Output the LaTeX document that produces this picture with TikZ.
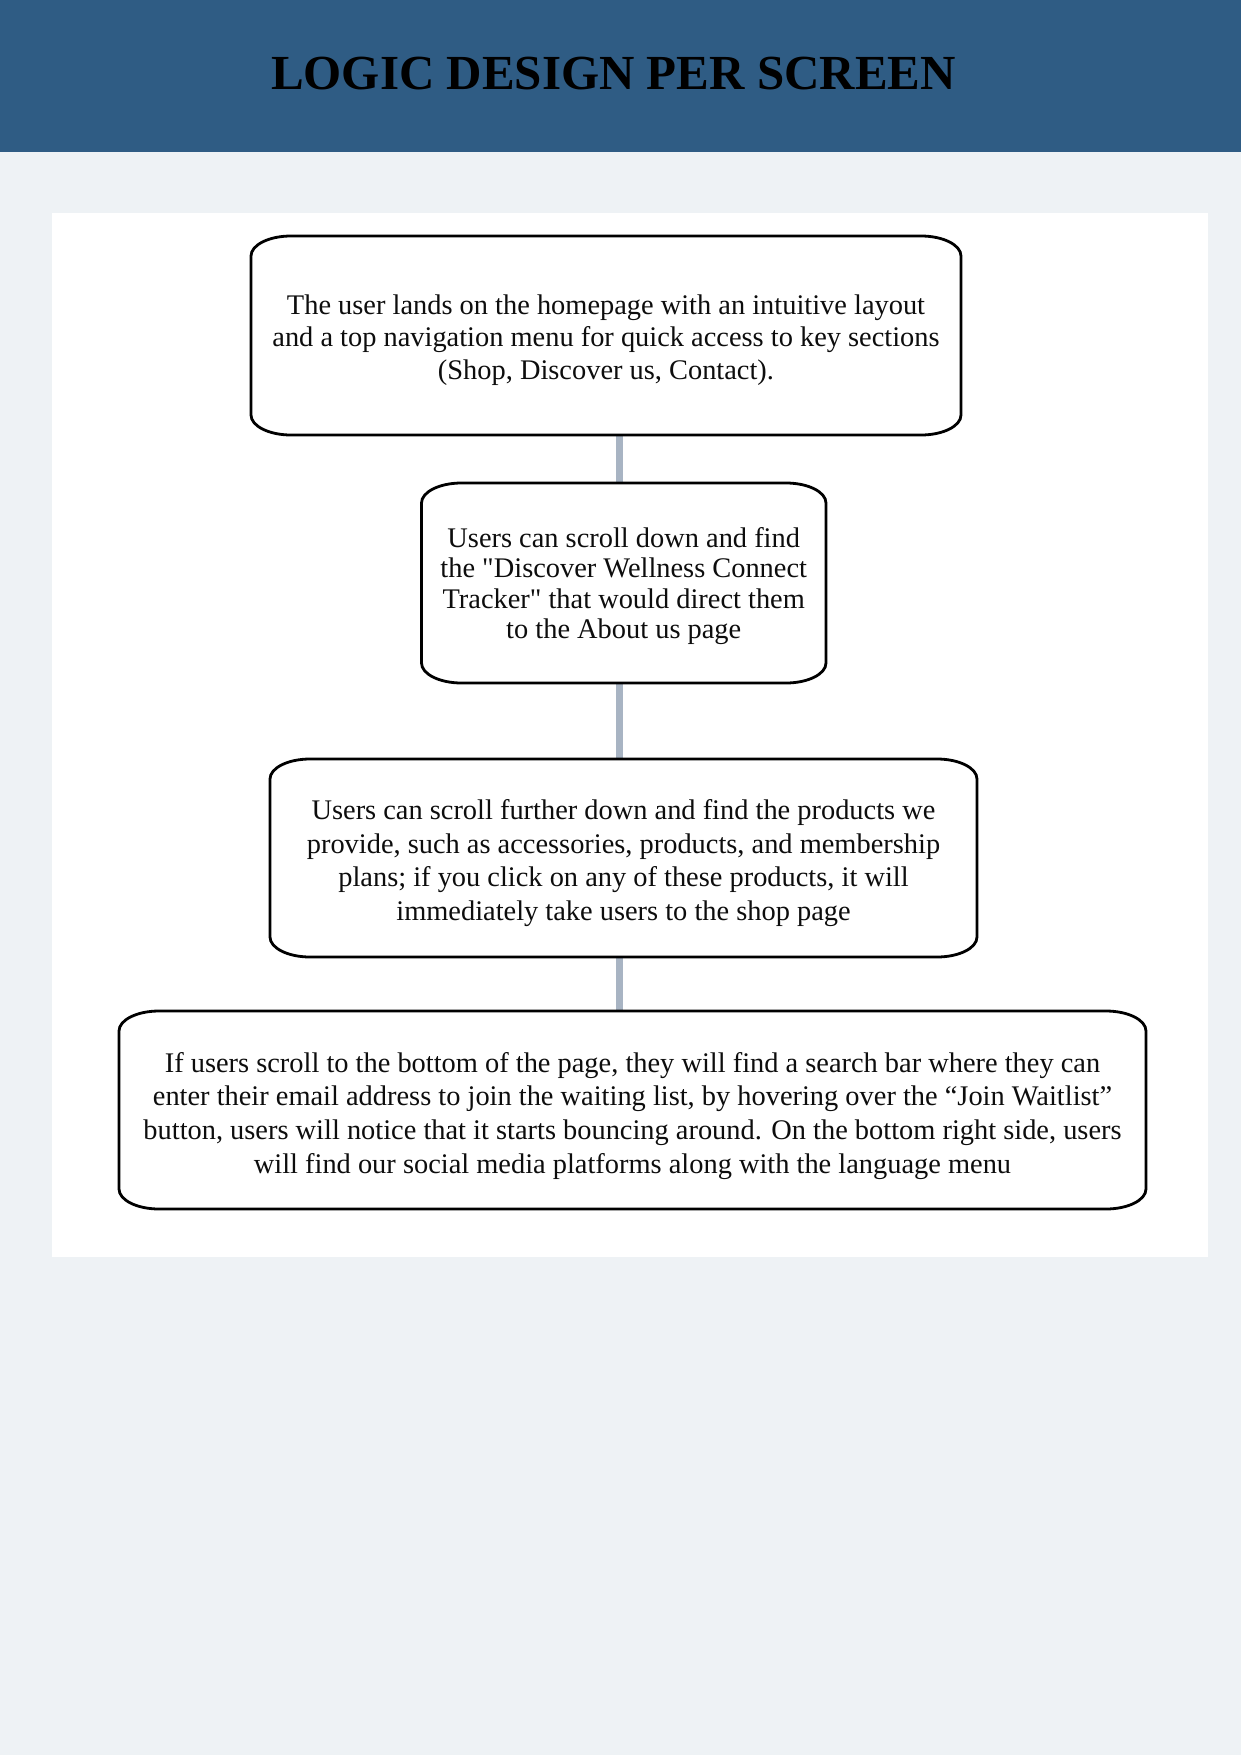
\documentclass[tikz,border=0pt]{standalone}
\usepackage{fontspec}
\setmainfont{Liberation Serif}[Ligatures=TeXOff]
\definecolor{hdr}{HTML}{2F5C84}
\definecolor{pagebg}{HTML}{EEF2F5}
\definecolor{connc}{HTML}{A8B4C3}
\newcommand{\ellbox}[1]{%
  \draw[boxline] ([xshift=40pt]#1.north west) -- ([xshift=-40pt]#1.north east)
    .. controls ([xshift=-17.9pt]#1.north east) and ([yshift=-8.95pt]#1.north east) .. ([yshift=-20pt]#1.north east)
    -- ([yshift=20pt]#1.south east)
    .. controls ([yshift=8.95pt]#1.south east) and ([xshift=-17.9pt]#1.south east) .. ([xshift=-40pt]#1.south east)
    -- ([xshift=40pt]#1.south west)
    .. controls ([xshift=17.9pt]#1.south west) and ([yshift=8.95pt]#1.south west) .. ([yshift=20pt]#1.south west)
    -- ([yshift=-20pt]#1.north west)
    .. controls ([yshift=-8.95pt]#1.north west) and ([xshift=17.9pt]#1.north west) .. ([xshift=40pt]#1.north west) -- cycle;}
\begin{document}
\begin{tikzpicture}[x=1pt,y=-1pt,
  boxframe/.style={rectangle, draw=none, inner sep=0pt, outer sep=0pt},
  boxline/.style={draw=black, line width=2.8pt},
  txt/.style={inner sep=0pt, outer sep=0pt, align=center, text=black!95,
    font=\fontsize{28.4pt}{32.5pt}\selectfont},
  conn/.style={draw=connc, line width=7pt}]
\useasboundingbox (0,0) rectangle (1241,1755);
\fill[pagebg] (0,0) rectangle (1241,1755);
\fill[hdr] (0,0) rectangle (1241,152);
\fill[white] (52,213) rectangle (1208,1257);
\node[anchor=base, inner sep=0pt, font=\bfseries\fontsize{49pt}{49pt}\selectfont] (title) at (613.5,90) {LOGIC DESIGN PER SCREEN};
% box frames
\node[boxframe, minimum width=710pt, minimum height=199pt] (b1) at (606,335.5) {};
\node[boxframe, minimum width=404.5pt, minimum height=200pt] (b2) at (623.75,583) {};
\node[boxframe, minimum width=707pt, minimum height=198pt] (b3) at (623.5,858) {};
\node[boxframe, minimum width=1027pt, minimum height=198pt] (b4) at (632.5,1110) {};
\coordinate (ax) at (619,0);
% connectors
\draw[conn] (b1.south -| ax) -- (b2.north -| ax);
\draw[conn] (b2.south -| ax) -- (b3.north -| ax);
\draw[conn] (b3.south -| ax) -- (b4.north -| ax);
\ellbox{b1}
\ellbox{b2}
\ellbox{b3}
\ellbox{b4}
% texts
\node[txt] (t1) at (606,339.8) {The user lands on the homepage with an intuitive layout\\and a top navigation menu for quick access to key sections\\(Shop, Discover us, Contact).};
\node[txt, font=\fontsize{28.4pt}{30.1pt}\selectfont] (t2) at (623.75,586.1) {Users can scroll down and find\\the "Discover Wellness Connect\\Tracker" that would direct them\\to the About us page};
\node[txt, font=\fontsize{28.4pt}{33.5pt}\selectfont] (t3) at (623.5,863) {Users can scroll further down and find the products we\\provide, such as accessories, products, and membership\\plans; if you click on any of these products, it will\\immediately take users to the shop page};
\node[txt, font=\fontsize{28.4pt}{33.7pt}\selectfont] (t4) at (632.5,1115.8) {If users scroll to the bottom of the page, they will find a search bar where they can\\enter their email address to join the waiting list, by hovering over the “Join Waitlist”\\button, users will notice that it starts bouncing around. On the bottom right side, users\\will find our social media platforms along with the language menu};
\end{tikzpicture}
\end{document}
